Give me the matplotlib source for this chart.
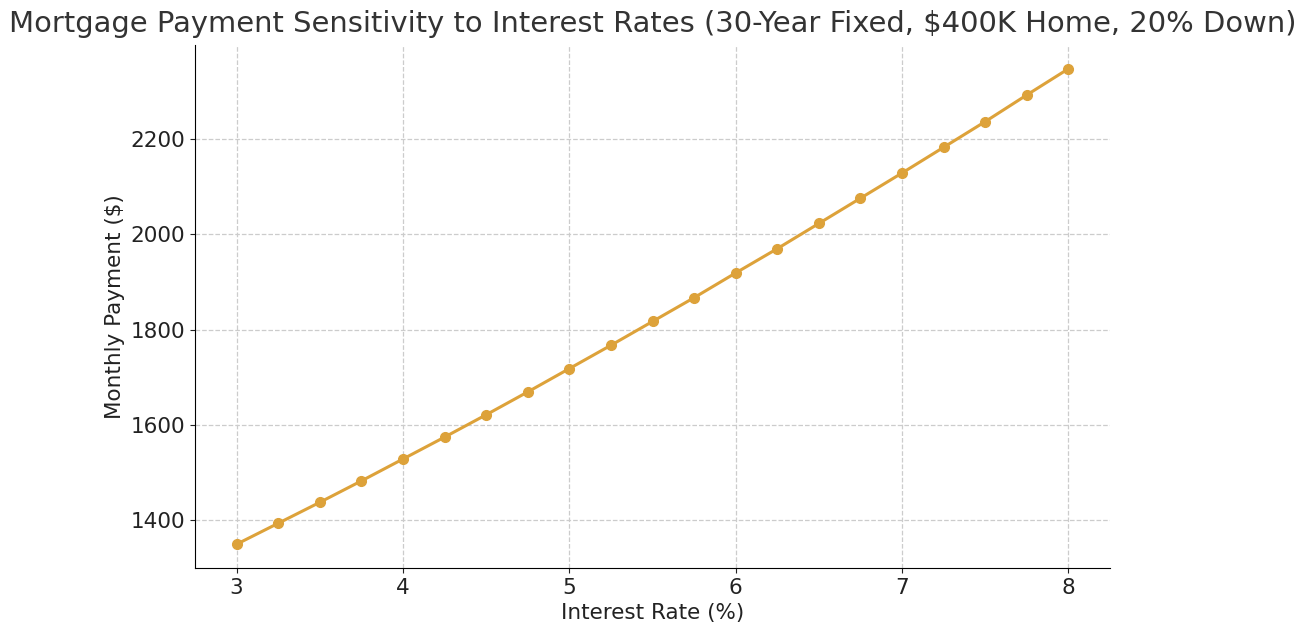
import matplotlib
matplotlib.use('Agg')
import matplotlib.pyplot as plt

rates = [3.0, 3.25, 3.5, 3.75, 4.0, 4.25, 4.5, 4.75, 5.0, 5.25, 5.5,
         5.75, 6.0, 6.25, 6.5, 6.75, 7.0, 7.25, 7.5, 7.75, 8.0]
payments = [1349, 1393, 1437, 1482, 1528, 1574, 1621, 1669, 1718, 1767, 1817,
            1867, 1919, 1970, 2023, 2076, 2129, 2183, 2237, 2293, 2348]

fig = plt.figure(figsize=(13.06, 6.38), dpi=100)
ax = fig.add_axes([195 / 1306, 1 - 568 / 638, 915 / 1306, 523 / 638])

ax.plot(rates, payments, color='#DDA23A', linewidth=2.2, marker='o', markersize=7)

ax.set_title('Mortgage Payment Sensitivity to Interest Rates (30-Year Fixed, $400K Home, 20% Down)',
             fontsize=20.9, color='#333333', pad=9)
ax.set_xlabel('Interest Rate (%)', fontsize=15.5, color='#222222')
ax.set_ylabel('Monthly Payment ($)', fontsize=15.5, color='#222222')
ax.tick_params(labelsize=15.5, colors='#222222')

ax.grid(True, linestyle='--', color='#cccccc', linewidth=0.9)
ax.set_axisbelow(True)
ax.spines['top'].set_visible(False)
ax.spines['right'].set_visible(False)

fig.savefig('out.png', dpi=100)
